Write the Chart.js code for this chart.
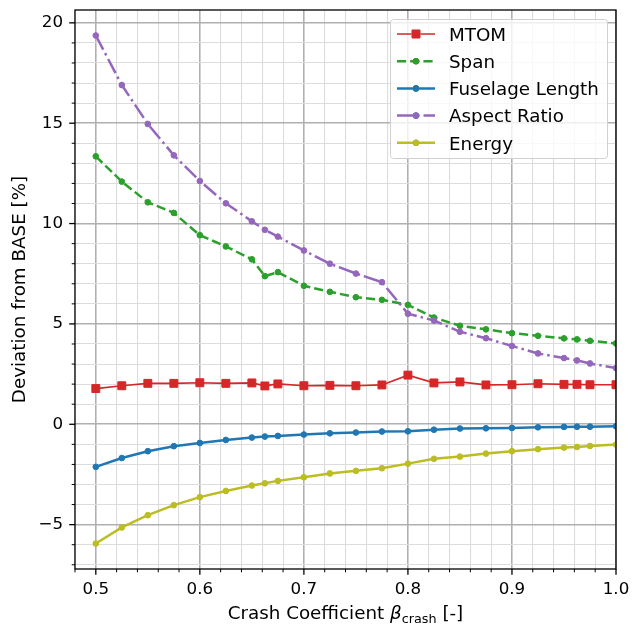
<!DOCTYPE html>
<html>
<head>
<meta charset="utf-8">
<script src="https://cdn.jsdelivr.net/npm/chart.js@4.4.1/dist/chart.umd.min.js"></script>
<style>
  html, body { margin: 0; padding: 0; background: #fff; }
  canvas { display: block; }
</style>
</head>
<body>
<canvas id="deviationChart" width="632" height="627"></canvas>
<script>
// crash coefficient sweep
const betaCrash = [0.5, 0.525, 0.55, 0.575, 0.6, 0.625, 0.65, 0.6625, 0.675, 0.7, 0.725, 0.75,
  0.775, 0.8, 0.825, 0.85, 0.875, 0.9, 0.925, 0.95, 0.9625, 0.975, 1.0];

// deviation from BASE [%]
const mtom = [1.78, 1.92, 2.04, 2.04, 2.07, 2.04, 2.06, 1.91, 2.01, 1.92, 1.94, 1.92,
  1.96, 2.45, 2.06, 2.11, 1.96, 1.97, 2.02, 1.99, 1.99, 1.97, 1.97];
const span = [13.35, 12.09, 11.06, 10.53, 9.42, 8.86, 8.22, 7.38, 7.58, 6.9, 6.6, 6.33,
  6.2, 5.95, 5.32, 4.91, 4.73, 4.54, 4.41, 4.28, 4.23, 4.16, 4.03];
const fuselageLength = [-2.12, -1.68, -1.34, -1.09, -0.93, -0.78, -0.66, -0.61, -0.58, -0.51, -0.45, -0.41,
  -0.36, -0.35, -0.27, -0.21, -0.2, -0.18, -0.15, -0.13, -0.12, -0.12, -0.1];
const aspectRatio = [19.37, 16.9, 14.96, 13.4, 12.12, 11.01, 10.11, 9.69, 9.35, 8.66, 8.0, 7.51,
  7.08, 5.51, 5.17, 4.61, 4.29, 3.9, 3.53, 3.3, 3.18, 3.03, 2.8];
const energy = [-5.94, -5.14, -4.53, -4.03, -3.63, -3.32, -3.05, -2.94, -2.82, -2.64, -2.45, -2.32,
  -2.19, -1.96, -1.72, -1.61, -1.46, -1.34, -1.24, -1.16, -1.13, -1.08, -1.01];

// axis ticks
const xMajorTicks = [0.5, 0.6, 0.7, 0.8, 0.9, 1.0];
const xMinorStep = 0.02;
const yMajorTicks = [-5, 0, 5, 10, 15, 20];
const yMinorStep = 1;

const FONT = '"DejaVu Sans", sans-serif';
const TICK_SIZE = 16.7;
const LABEL_SIZE = 18.3;

const isMajor = (list, v) => list.some(m => Math.abs(m - v) < 1e-9);

const toPoints = values => values.map((v, i) => ({ x: betaCrash[i], y: v }));

const lineSeries = (label, values, color, opts) => Object.assign({
  label,
  data: toPoints(values),
  borderColor: color,
  backgroundColor: color,
  pointBackgroundColor: color,
  pointBorderColor: color,
  borderWidth: 2.5,
  pointRadius: 2.85,
  pointBorderWidth: 1,
  pointStyle: 'circle',
  tension: 0,
  fill: false,
  clip: 0,
}, opts);

const datasets = [
  lineSeries('MTOM', mtom, '#d62728', { borderWidth: 1.7, pointStyle: 'rect', pointRadius: 5.6, order: 5 }),
  lineSeries('Span', span, '#2ca02c', { borderDash: [9.2, 4], order: 4 }),
  lineSeries('Fuselage Length', fuselageLength, '#1f77b4', { order: 3 }),
  lineSeries('Aspect Ratio', aspectRatio, '#9467bd', { borderDash: [16, 4, 2.5, 4], order: 2 }),
  lineSeries('Energy', energy, '#bcbd22', { order: 1 }),
];

const buildTicks = (lo, hi, step) => {
  const out = [];
  const start = Math.ceil(lo / step - 1e-9);
  const end = Math.floor(hi / step + 1e-9);
  for (let k = start; k <= end; k++) out.push({ value: +(k * step).toFixed(6) });
  return out;
};

// keep the plot area fixed: no extra room for edge labels
const noEdgePadding = scale => {
  scale.paddingLeft = 0;
  scale.paddingRight = 0;
  scale.paddingTop = 0;
  scale.paddingBottom = 0;
};

// spines, tick marks, axis titles and legend
const axesFrame = {
  id: 'axesFrame',
  afterDatasetsDraw(chart) {
    const { ctx, chartArea: a, scales: { x, y } } = chart;
    ctx.save();
    ctx.strokeStyle = '#000';
    x.ticks.forEach(t => {
      const px = x.getPixelForValue(t.value);
      const major = isMajor(xMajorTicks, t.value);
      ctx.lineWidth = major ? 1.3 : 1;
      ctx.beginPath();
      ctx.moveTo(px, a.bottom);
      ctx.lineTo(px, a.bottom + (major ? 5.8 : 3.3));
      ctx.stroke();
    });
    y.ticks.forEach(t => {
      const py = y.getPixelForValue(t.value);
      const major = isMajor(yMajorTicks, t.value);
      ctx.lineWidth = major ? 1.3 : 1;
      ctx.beginPath();
      ctx.moveTo(a.left, py);
      ctx.lineTo(a.left - (major ? 5.8 : 3.3), py);
      ctx.stroke();
    });
    ctx.lineWidth = 1.3;
    ctx.strokeRect(a.left, a.top, a.right - a.left, a.bottom - a.top);
    ctx.restore();
  },
  afterDraw(chart) {
    const { ctx, chartArea: a } = chart;
    ctx.save();
    ctx.fillStyle = '#000';

    // x title with italic beta and subscript
    const parts = [
      { text: 'Crash Coefficient ', font: `${LABEL_SIZE}px ${FONT}`, dy: 0 },
      { text: 'β', font: `italic ${LABEL_SIZE}px ${FONT}`, dy: 0 },
      { text: 'crash', font: `${LABEL_SIZE * 0.7}px ${FONT}`, dy: 3.8 },
      { text: ' [-]', font: `${LABEL_SIZE}px ${FONT}`, dy: 0 },
    ];
    let total = 0;
    parts.forEach(p => { ctx.font = p.font; p.w = ctx.measureText(p.text).width; total += p.w; });
    let cx = (a.left + a.right) / 2 - total / 2;
    ctx.textBaseline = 'alphabetic';
    ctx.textAlign = 'left';
    parts.forEach(p => {
      ctx.font = p.font;
      ctx.fillText(p.text, cx, 619 + p.dy);
      cx += p.w;
    });

    // y title
    ctx.save();
    ctx.translate(25, (a.top + a.bottom) / 2);
    ctx.rotate(-Math.PI / 2);
    ctx.textAlign = 'center';
    ctx.font = `${LABEL_SIZE}px ${FONT}`;
    ctx.fillText('Deviation from BASE [%]', 0, 0);
    ctx.restore();

    // legend box
    const box = { left: 390.5, top: 19.5, w: 217, h: 139 };
    ctx.beginPath();
    ctx.roundRect(box.left, box.top, box.w, box.h, 3);
    ctx.fillStyle = 'rgba(255,255,255,0.8)';
    ctx.fill();
    ctx.strokeStyle = '#d0d0d0';
    ctx.lineWidth = 1;
    ctx.stroke();

    chart.data.datasets.forEach((ds, i) => {
      const rowY = 34 + i * 27.2;
      ctx.save();
      ctx.strokeStyle = ds.borderColor;
      ctx.lineWidth = ds.borderWidth;
      ctx.setLineDash(ds.borderDash || []);
      ctx.beginPath();
      ctx.moveTo(397, rowY);
      ctx.lineTo(435, rowY);
      ctx.stroke();
      ctx.restore();
      Chart.helpers.drawPoint(ctx, {
        pointStyle: ds.pointStyle,
        radius: ds.pointRadius,
        borderWidth: ds.pointBorderWidth,
        rotation: 0,
      }, 416, rowY);
      ctx.fillStyle = ds.pointBackgroundColor;
      ctx.strokeStyle = ds.pointBorderColor;
      ctx.fill();
      ctx.lineWidth = ds.pointBorderWidth;
      ctx.stroke();
      ctx.fillStyle = '#000';
      ctx.font = `${LABEL_SIZE}px ${FONT}`;
      ctx.textAlign = 'left';
      ctx.textBaseline = 'alphabetic';
      ctx.fillText(ds.label, 449, rowY + 6.7);
    });
    ctx.restore();
  },
};

const ctx = document.getElementById('deviationChart').getContext('2d');

new Chart(ctx, {
  type: 'line',
  data: { datasets },
  plugins: [axesFrame],
  options: {
    responsive: false,
    animation: false,
    layout: { padding: { left: 0, top: 10, right: 16, bottom: 0 } },
    plugins: {
      legend: { display: false },
      tooltip: { enabled: false },
    },
    scales: {
      x: {
        type: 'linear',
        min: 0.48,
        max: 1.0,
        afterBuildTicks: scale => { scale.ticks = buildTicks(0.48, 1.0, xMinorStep); },
        afterFit: scale => { scale.height = 58; noEdgePadding(scale); },
        border: { display: false },
        grid: {
          drawTicks: false,
          color: c => isMajor(xMajorTicks, c.tick.value) ? '#b0b0b0' : '#dcdcdc',
          lineWidth: c => isMajor(xMajorTicks, c.tick.value) ? 1.6 : 1.1,
        },
        ticks: {
          autoSkip: false,
          maxRotation: 0,
          padding: 11,
          color: '#000',
          font: { family: FONT, size: TICK_SIZE },
          callback: v => isMajor(xMajorTicks, v) ? v.toFixed(1) : '',
        },
      },
      y: {
        type: 'linear',
        min: -7.21,
        max: 20.64,
        afterBuildTicks: scale => { scale.ticks = buildTicks(-7.21, 20.64, yMinorStep); },
        afterFit: scale => { scale.width = 75; noEdgePadding(scale); },
        border: { display: false },
        grid: {
          drawTicks: false,
          color: c => isMajor(yMajorTicks, c.tick.value) ? '#b0b0b0' : '#dcdcdc',
          lineWidth: c => isMajor(yMajorTicks, c.tick.value) ? 1.6 : 1.1,
        },
        ticks: {
          autoSkip: false,
          padding: 12,
          color: '#000',
          font: { family: FONT, size: TICK_SIZE },
          callback: v => isMajor(yMajorTicks, v) ? (v < 0 ? '\u2212' + Math.abs(v) : String(v)) : '',
        },
      },
    },
  },
});
</script>
</body>
</html>
